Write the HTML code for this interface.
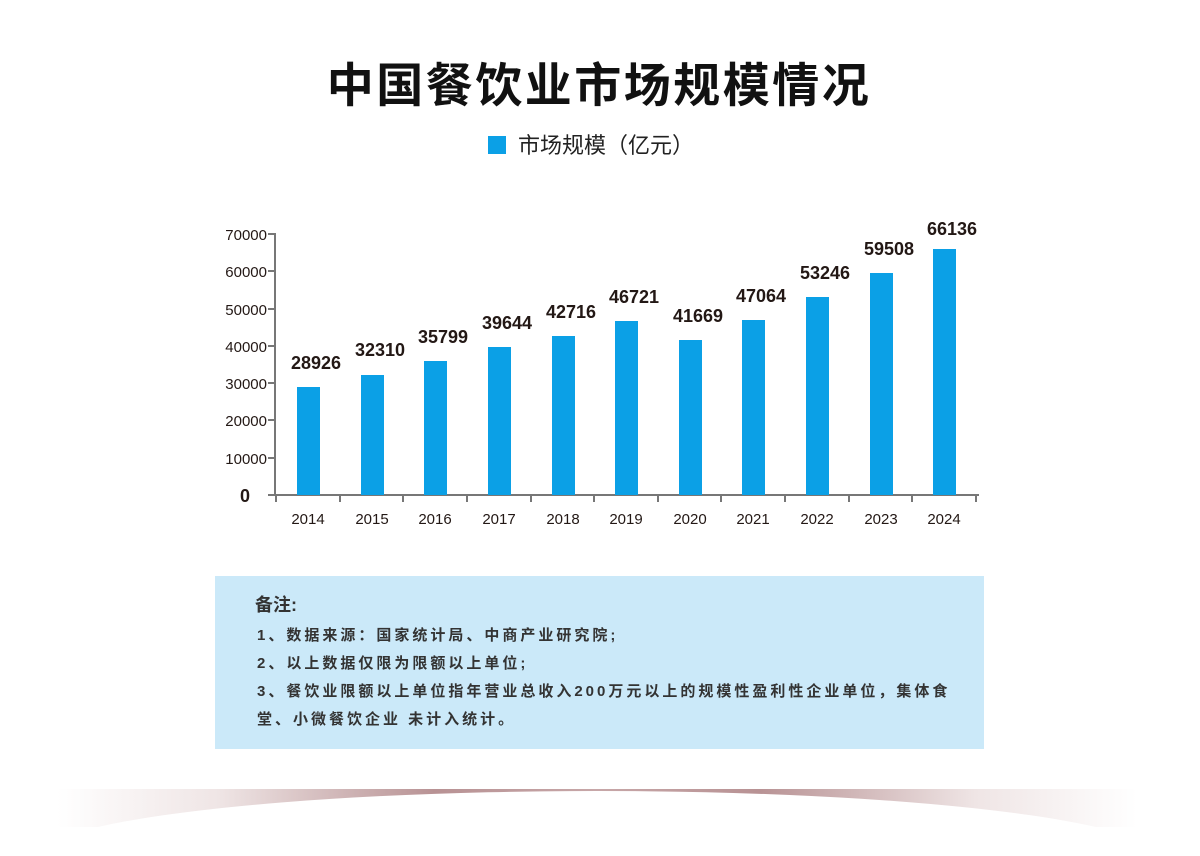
<!DOCTYPE html>
<html><head><meta charset="utf-8"><style>
html,body{margin:0;background:#fff;width:1200px;height:856px;overflow:hidden;font-family:"Liberation Sans","Noto Sans CJK SC",sans-serif;}
svg{display:block}
</style></head><body>
<svg width="1200" height="856" viewBox="0 0 1200 856" xmlns="http://www.w3.org/2000/svg">
<defs>
<linearGradient id="g" x1="0" x2="1" y1="0" y2="0">
<stop offset="0" stop-color="#fff"/>
<stop offset="0.15" stop-color="#efe5e5"/>
<stop offset="0.35" stop-color="#b89294"/>
<stop offset="0.5" stop-color="#c7a7a8"/>
<stop offset="0.65" stop-color="#b89294"/>
<stop offset="0.85" stop-color="#efe5e5"/>
<stop offset="1" stop-color="#fff"/>
</linearGradient>
</defs>
<text x="599" y="102" text-anchor="middle" font-family="Liberation Sans,Noto Sans CJK SC,sans-serif" font-weight="bold" font-size="47" letter-spacing="2.5" fill="#111">中国餐饮业市场规模情况</text>
<rect x="488" y="136" width="18" height="18" fill="#0ba0e6"/>
<text x="518" y="153" font-family="Liberation Sans,Noto Sans CJK SC,sans-serif" font-size="22" fill="#222">市场规模（亿元）</text>
<g font-family="Liberation Sans,Noto Sans CJK SC,sans-serif" font-size="15" fill="#231815" text-anchor="end">
<text x="267" y="240">70000</text><text x="267" y="277">60000</text><text x="267" y="315">50000</text><text x="267" y="352">40000</text><text x="267" y="389">30000</text><text x="267" y="426">20000</text><text x="267" y="464">10000</text>
<text x="250" y="502" font-weight="bold" font-size="18">0</text>
</g>
<g stroke="#777" stroke-width="2" fill="none">
<path d="M275 233V495M268 234H275M268 271H275M268 309H275M268 346H275M268 383H275M268 420H275M268 458H275M268 495H979"/>
<path d="M276 495v7M340 495v7M403 495v7M467 495v7M531 495v7M594 495v7M658 495v7M721 495v7M785 495v7M849 495v7M912 495v7M976 495v7"/>
</g>
<g fill="#0ba0e6">
<rect x="297" y="387" width="23" height="108"/>
<rect x="361" y="375" width="23" height="120"/>
<rect x="424" y="361" width="23" height="134"/>
<rect x="488" y="347" width="23" height="148"/>
<rect x="552" y="336" width="23" height="159"/>
<rect x="615" y="321" width="23" height="174"/>
<rect x="679" y="340" width="23" height="155"/>
<rect x="742" y="320" width="23" height="175"/>
<rect x="806" y="297" width="23" height="198"/>
<rect x="870" y="273" width="23" height="222"/>
<rect x="933" y="249" width="23" height="246"/>
</g>
<g font-family="Liberation Sans,sans-serif" font-weight="bold" font-size="18" fill="#231815" text-anchor="middle">
<text x="316" y="369">28926</text><text x="380" y="356">32310</text><text x="443" y="343">35799</text><text x="507" y="329">39644</text><text x="571" y="318">42716</text><text x="634" y="303">46721</text><text x="698" y="322">41669</text><text x="761" y="302">47064</text><text x="825" y="279">53246</text><text x="889" y="255">59508</text><text x="952" y="235">66136</text>
</g>
<g font-family="Liberation Sans,sans-serif" font-size="15" fill="#231815" text-anchor="middle">
<text x="308" y="524">2014</text><text x="372" y="524">2015</text><text x="435" y="524">2016</text><text x="499" y="524">2017</text><text x="563" y="524">2018</text><text x="626" y="524">2019</text><text x="690" y="524">2020</text><text x="753" y="524">2021</text><text x="817" y="524">2022</text><text x="881" y="524">2023</text><text x="944" y="524">2024</text>
</g>
<rect x="215" y="576" width="769" height="173" fill="#cbe9f9"/>
<g font-family="Liberation Sans,Noto Sans CJK SC,sans-serif" font-weight="bold" fill="#333">
<text x="255" y="611" font-size="18">备注:</text>
<g font-size="15" letter-spacing="3">
<text x="257" y="640">1、数据来源：国家统计局、中商产业研究院;</text>
<text x="257" y="668">2、以上数据仅限为限额以上单位;</text>
<text x="257" y="696">3、餐饮业限额以上单位指年营业总收入200万元以上的规模性盈利性企业单位，集体食</text>
<text x="257" y="724">堂、小微餐饮企业 未计入统计。</text>
</g>
</g>
<rect x="57" y="789" width="1080" height="38" fill="url(#g)"/>
<ellipse cx="597" cy="857" rx="560" ry="66" fill="#fff"/>
<rect x="0" y="827" width="1200" height="29" fill="#fff"/>
</svg>
</body></html>
